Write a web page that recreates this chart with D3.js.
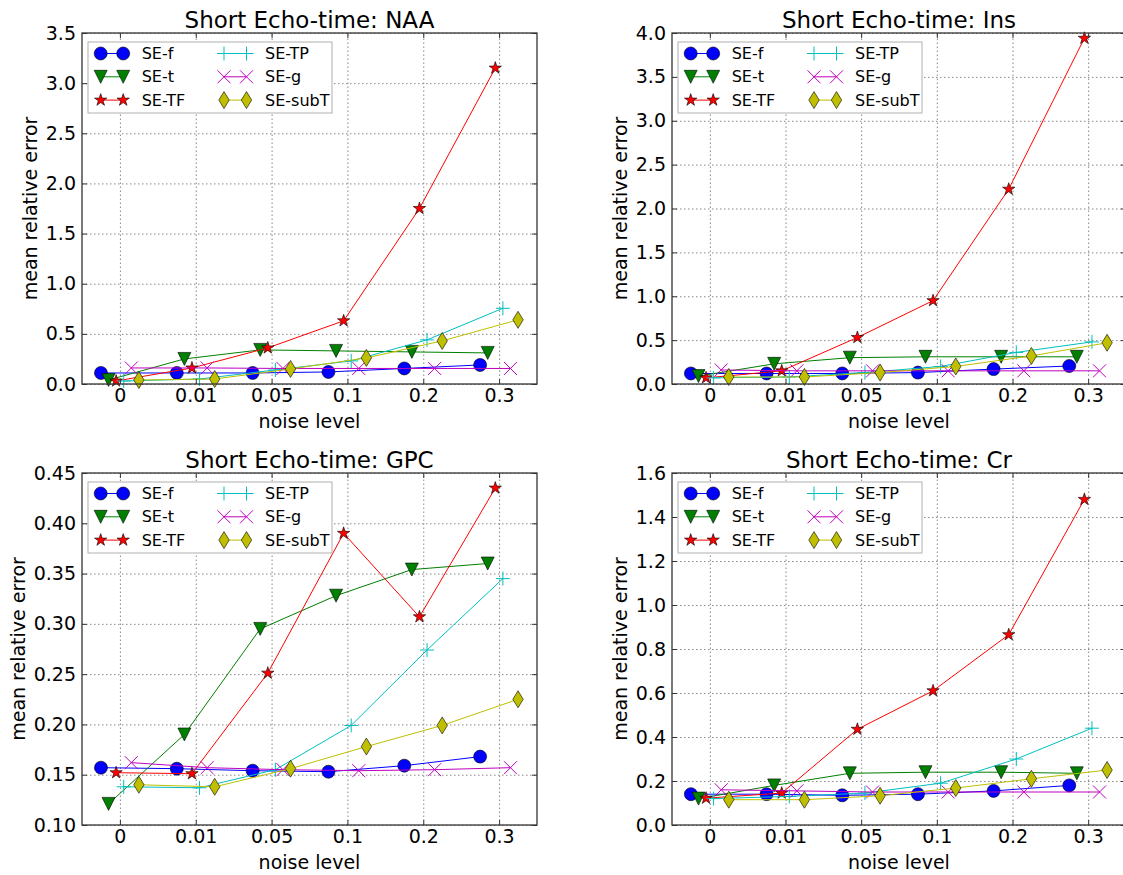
<!DOCTYPE html>
<html>
<head>
<meta charset="utf-8">
<script src="https://cdn.jsdelivr.net/npm/d3@7"></script>
<style>
  body { margin: 0; background: #fff; }
  svg text { font-family: "DejaVu Sans", sans-serif; fill: #000; }
</style>
</head>
<body>
<div id="chart"></div>
<script>
// noise levels are drawn as evenly spaced categories
const noiseLevels = ["0", "0.01", "0.05", "0.1", "0.2", "0.3"];
const seriesNames = ["SE-f", "SE-t", "SE-TF", "SE-TP", "SE-g", "SE-subT"];

// one row per series, same order as seriesNames
const naaValues = [
  [0.11, 0.11, 0.11, 0.12, 0.155, 0.19],
  [0.04, 0.25, 0.34, 0.33, 0.32, 0.31],
  [0.03, 0.16, 0.36, 0.63, 1.75, 3.15],
  [0.03, 0.05, 0.14, 0.23, 0.44, 0.755],
  [0.16, 0.16, 0.155, 0.155, 0.155, 0.155],
  [0.04, 0.05, 0.15, 0.26, 0.43, 0.64]
];
const insValues = [
  [0.12, 0.12, 0.12, 0.13, 0.17, 0.205],
  [0.09, 0.23, 0.3, 0.31, 0.31, 0.31],
  [0.07, 0.15, 0.53, 0.95, 2.22, 3.94],
  [0.07, 0.08, 0.13, 0.2, 0.36, 0.48],
  [0.16, 0.15, 0.15, 0.15, 0.15, 0.15],
  [0.08, 0.08, 0.13, 0.2, 0.32, 0.47]
];
const gpcValues = [
  [0.157, 0.156, 0.154, 0.153, 0.159, 0.168],
  [0.121, 0.19, 0.295, 0.328, 0.354, 0.36],
  [0.152, 0.151, 0.251, 0.39, 0.307, 0.435],
  [0.138, 0.137, 0.155, 0.199, 0.274, 0.345],
  [0.162, 0.157, 0.155, 0.154, 0.155, 0.157],
  [0.14, 0.138, 0.156, 0.178, 0.199, 0.225]
];
const crValues = [
  [0.14, 0.14, 0.135, 0.14, 0.155, 0.18],
  [0.12, 0.18, 0.235, 0.24, 0.24, 0.235],
  [0.122, 0.145, 0.435, 0.61, 0.865, 1.48],
  [0.12, 0.13, 0.145, 0.19, 0.3, 0.44],
  [0.16, 0.155, 0.15, 0.15, 0.15, 0.15],
  [0.115, 0.115, 0.133, 0.168, 0.21, 0.25]
];

const colors = ["#0000ff", "#008000", "#ff0000", "#00bfbf", "#bf00bf", "#bfbf00"];
const markers = ["circle", "tri", "star", "plus", "cross", "diamond"];
const offsets = [-0.25, -0.15, -0.05, 0.05, 0.15, 0.25];

const panels = [
  { title: "Short Echo-time: NAA", values: naaValues, yMax: 3.5, step: 0.5, fmt: ".1f", yMin: 0,
    left: 82, right: 537, top: 33, bottom: 384 },
  { title: "Short Echo-time: Ins", values: insValues, yMax: 4.0, step: 0.5, fmt: ".1f", yMin: 0,
    left: 672, right: 1126, top: 33, bottom: 384 },
  { title: "Short Echo-time: GPC", values: gpcValues, yMax: 0.45, step: 0.05, fmt: ".2f", yMin: 0.10,
    left: 82, right: 537, top: 473, bottom: 825 },
  { title: "Short Echo-time: Cr", values: crValues, yMax: 1.6, step: 0.2, fmt: ".1f", yMin: 0,
    left: 672, right: 1126, top: 473, bottom: 825 }
];

const svg = d3.select("#chart").append("svg")
  .attr("width", 1123)
  .attr("height", 875);

function markerPath(type) {
  const r = 6.5;
  if (type === "circle") return d3.symbol(d3.symbolCircle, Math.PI * r * r)();
  if (type === "tri") return `M${-r},${-r}L${r},${-r}L0,${r}Z`;
  if (type === "diamond") return "M0,-8.5L5.2,0L0,8.5L-5.2,0Z";
  if (type === "plus") return "M-7,0L7,0M0,-7L0,7";
  if (type === "cross") return "M-6.5,-6.5L6.5,6.5M-6.5,6.5L6.5,-6.5";
  // 5 point star
  const pts = [];
  for (let i = 0; i < 10; i++) {
    const rad = i % 2 === 0 ? r : r * 0.382;
    const a = -Math.PI / 2 + i * Math.PI / 5;
    pts.push([rad * Math.cos(a), rad * Math.sin(a)]);
  }
  return "M" + pts.join("L") + "Z";
}

function drawMarker(sel, i) {
  const type = markers[i];
  const open = type === "plus" || type === "cross";
  sel.append("path")
    .attr("d", markerPath(type))
    .attr("fill", open ? "none" : colors[i])
    .attr("stroke", open ? colors[i] : "#000")
    .attr("stroke-width", open ? 1 : 0.6);
}

panels.forEach(p => {
  const w = p.right - p.left, h = p.bottom - p.top;
  const x = d3.scaleLinear().domain([-0.5, noiseLevels.length - 0.5]).range([p.left, p.right]);
  const y = d3.scaleLinear().domain([p.yMin, p.yMax]).range([p.bottom, p.top]);
  const yTicks = d3.range(p.yMin, p.yMax + p.step / 2, p.step);
  const xTicks = d3.range(noiseLevels.length);

  const g = svg.append("g");

  // grid
  g.append("g")
    .attr("transform", `translate(0,${p.bottom})`)
    .call(d3.axisBottom(x).tickValues(xTicks).tickSize(-h).tickFormat(""))
    .call(s => s.select(".domain").remove())
    .selectAll("line").attr("stroke", "#888").attr("stroke-dasharray", "1.5,2.5");
  g.append("g")
    .attr("transform", `translate(${p.left},0)`)
    .call(d3.axisLeft(y).tickValues(yTicks).tickSize(-w).tickFormat(""))
    .call(s => s.select(".domain").remove())
    .selectAll("line").attr("stroke", "#888").attr("stroke-dasharray", "1.5,2.5");

  // series
  p.values.forEach((vals, si) => {
    const pts = vals.map((v, k) => [x(k + offsets[si]), y(v)]);
    g.append("path")
      .attr("d", d3.line()(pts))
      .attr("fill", "none")
      .attr("stroke", colors[si])
      .attr("stroke-width", 1);
    pts.forEach(pt => {
      g.append("g").attr("transform", `translate(${pt[0]},${pt[1]})`).call(drawMarker, si);
    });
  });

  // axes with inward ticks
  const fmt = d3.format(p.fmt);
  const yAxisG = g.append("g")
    .attr("transform", `translate(${p.left},0)`)
    .call(d3.axisLeft(y).tickValues(yTicks).tickSize(-5).tickPadding(6).tickFormat(fmt))
    .call(s => s.select(".domain").remove())
    .call(s => s.selectAll("text").style("font-size", "19px").attr("font-family", null))
    .call(s => s.selectAll("line").attr("stroke", "#333"));
  g.append("g")
    .attr("transform", `translate(${p.right},0)`)
    .call(d3.axisRight(y).tickValues(yTicks).tickSize(-5).tickFormat(""))
    .call(s => s.select(".domain").remove())
    .selectAll("line").attr("stroke", "#333");
  g.append("g")
    .attr("transform", `translate(0,${p.bottom})`)
    .call(d3.axisBottom(x).tickValues(xTicks).tickSize(-5).tickPadding(5).tickFormat(k => noiseLevels[k]))
    .call(s => s.select(".domain").remove())
    .call(s => s.selectAll("text").style("font-size", "19px").attr("font-family", null))
    .call(s => s.selectAll("line").attr("stroke", "#333"));
  g.append("g")
    .attr("transform", `translate(0,${p.top})`)
    .call(d3.axisTop(x).tickValues(xTicks).tickSize(-5).tickFormat(""))
    .call(s => s.select(".domain").remove())
    .selectAll("line").attr("stroke", "#333");

  // frame
  g.append("rect")
    .attr("x", p.left).attr("y", p.top)
    .attr("width", w).attr("height", h)
    .attr("fill", "none").attr("stroke", "#333").attr("stroke-width", 1.3);

  // labels
  g.append("text")
    .attr("x", (p.left + p.right) / 2).attr("y", p.top - 5.5)
    .attr("text-anchor", "middle").style("font-size", "23px")
    .text(p.title);
  g.append("text")
    .attr("x", (p.left + p.right) / 2).attr("y", p.bottom + 43.5)
    .attr("text-anchor", "middle").style("font-size", "19px")
    .text("noise level");

  // y label sits left of the widest tick label, like matplotlib does
  let tickW = 0;
  yAxisG.selectAll("text").each(function() { tickW = Math.max(tickW, this.getBBox().width); });
  g.append("text")
    .attr("transform", `translate(${p.left - 6 - tickW - 15.5},${(p.top + p.bottom) / 2}) rotate(-90)`)
    .attr("text-anchor", "middle").attr("dy", "0.35em").style("font-size", "19px")
    .text("mean relative error");

  // legend
  const lx = p.left + 6, ly = p.top + 9;
  const leg = g.append("g").attr("transform", `translate(${lx},${ly})`);
  leg.append("rect")
    .attr("width", 244).attr("height", 71)
    .attr("fill", "#fff").attr("stroke", "#b0b0b0").attr("stroke-width", 1);
  seriesNames.forEach((name, si) => {
    const col = Math.floor(si / 3), row = si % 3;
    const cx = col === 0 ? 12.7 : 136;
    const cy = 11.5 + row * 23.3;
    const item = leg.append("g").attr("transform", `translate(${cx},${cy})`);
    item.append("line")
      .attr("x1", 0).attr("x2", 22.5)
      .attr("stroke", colors[si]).attr("stroke-width", 1);
    item.append("g").call(drawMarker, si);
    item.append("g").attr("transform", "translate(22.5,0)").call(drawMarker, si);
    item.append("text")
      .attr("x", 41).attr("dy", "0.35em")
      .style("font-size", "16px")
      .text(name);
  });
});
</script>
</body>
</html>
